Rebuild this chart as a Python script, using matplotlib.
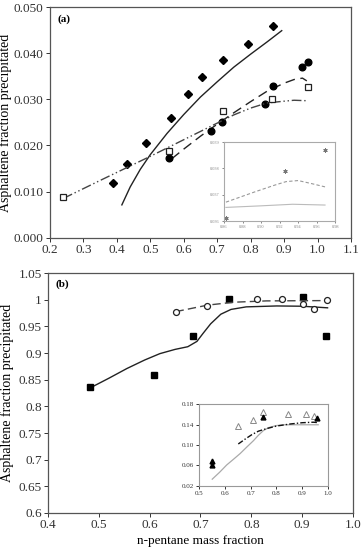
import matplotlib
matplotlib.use('Agg')
from matplotlib import pyplot as plt

# ---- panel (a) data ----
a_diam_x = [0.389, 0.429, 0.486, 0.562, 0.613, 0.655, 0.718, 0.792, 0.868]
a_diam_y = [0.0118, 0.0160, 0.0205, 0.0260, 0.0312, 0.0349, 0.0386, 0.0420, 0.0460]
a_solid_x = [0.415, 0.44, 0.47, 0.50, 0.55, 0.60, 0.65, 0.70, 0.75, 0.80, 0.85, 0.893]
a_solid_y = [0.0071, 0.0110, 0.0148, 0.0180, 0.0226, 0.0267, 0.0305, 0.0338,
             0.0370, 0.0398, 0.0425, 0.0449]

a_circ_x = [0.557, 0.681, 0.714, 0.843, 0.866, 0.953, 0.972]
a_circ_y = [0.0172, 0.0231, 0.0250, 0.0290, 0.0329, 0.0370, 0.0381]
a_dash_x = [0.564, 0.60, 0.65, 0.70, 0.75, 0.80, 0.85, 0.90, 0.93, 0.955, 0.968]
a_dash_y = [0.0171, 0.0192, 0.0220, 0.0246, 0.0271, 0.0295, 0.0318, 0.0335,
            0.0343, 0.0346, 0.0340]

a_sq_x = [0.238, 0.556, 0.716, 0.865, 0.972]
a_sq_y = [0.0088, 0.0188, 0.0274, 0.0300, 0.0326]
a_dd_x = [0.240, 0.35, 0.499, 0.649, 0.749, 0.80, 0.848, 0.90, 0.93, 0.968]
a_dd_y = [0.0085, 0.0124, 0.0176, 0.0230, 0.0266, 0.0281, 0.0292, 0.0296,
          0.0298, 0.0297]

# inset (a)
ia_pts_x = [0.862, 0.926, 0.969]
ia_pts_y = [0.03612, 0.03791, 0.03871]
ia_dash_x = [0.862, 0.894, 0.915, 0.927, 0.940, 0.955, 0.969]
ia_dash_y = [0.03672, 0.03712, 0.03737, 0.03750, 0.03754, 0.03742, 0.03730]
ia_solid_x = [0.862, 0.90, 0.934, 0.969]
ia_solid_y = [0.03652, 0.03658, 0.03664, 0.03661]

# ---- panel (b) data ----
b_sq_x = [0.4835, 0.609, 0.686, 0.7555, 0.901, 0.947]
b_sq_y = [0.8366, 0.8586, 0.9314, 1.001, 1.0048, 0.9314]
b_solid_x = [0.4835, 0.52, 0.555, 0.59, 0.62, 0.65, 0.675, 0.693, 0.705,
             0.72, 0.74, 0.76, 0.79, 0.85, 0.90, 0.95]
b_solid_y = [0.835, 0.853, 0.871, 0.887, 0.899, 0.907, 0.912, 0.922, 0.937,
             0.955, 0.973, 0.982, 0.9868, 0.9885, 0.988, 0.985]

b_circ_x = [0.651, 0.7135, 0.811, 0.860, 0.901, 0.9238, 0.949]
b_circ_y = [0.9778, 0.9891, 1.001, 1.001, 0.9923, 0.9835, 0.9992]
b_dash_x = [0.651, 0.7135, 0.765, 0.83, 0.949]
b_dash_y = [0.9778, 0.990, 0.9955, 0.9980, 0.9986]

# inset (b)
ib_open_x = [0.650, 0.710, 0.748, 0.846, 0.915, 0.945]
ib_open_y = [0.138, 0.149, 0.164, 0.160, 0.160, 0.157]
ib_fill_x = [0.551, 0.551, 0.748, 0.958]
ib_fill_y = [0.069, 0.061, 0.154, 0.153]
ib_solid_x = [0.551, 0.58, 0.607, 0.633, 0.659, 0.685, 0.711, 0.73, 0.749,
              0.77, 0.80, 0.83, 0.962]
ib_solid_y = [0.0333, 0.047, 0.061, 0.072, 0.0832, 0.096, 0.1085, 0.119,
              0.128, 0.134, 0.138, 0.1395, 0.1395]
ib_dd_x = [0.652, 0.68, 0.704, 0.73, 0.762, 0.80, 0.853, 0.90, 0.943, 0.962]
ib_dd_y = [0.102, 0.112, 0.120, 0.127, 0.132, 0.137, 0.141, 0.1435, 0.1445, 0.1437]

plt.rcParams['font.family'] = 'Liberation Serif'
plt.rcParams['axes.edgecolor'] = '#555555'
plt.rcParams['xtick.color'] = '#333333'
plt.rcParams['ytick.color'] = '#333333'

ink = '#222222'
fig = plt.figure(figsize=(3.62, 5.5), dpi=100)


def style_axes(ax, size, tick_len=3):
    ax.tick_params(direction='out', labelsize=size, length=tick_len, width=0.7,
                   top=False, right=False, pad=1.5)
    for s in ax.spines.values():
        s.set_linewidth(0.9)


# panel (a)
ax1 = fig.add_axes([0.138, 0.568, 0.8315, 0.419])
ax1.plot(a_solid_x, a_solid_y, color=ink, lw=1.0)
ax1.plot(a_diam_x, a_diam_y, 'D', color='black', ms=4.3, ls='none')
ax1.plot(a_dash_x, a_dash_y, color=ink, lw=1.0, ls=(0, (7, 4)))
ax1.plot(a_circ_x, a_circ_y, 'o', color='black', ms=4.8, ls='none')
ax1.plot(a_dd_x, a_dd_y, color='#444444', lw=1.0, ls=(0, (7, 2, 1, 2, 1, 2)))
ax1.plot(a_sq_x, a_sq_y, 's', mfc='white', mec=ink, mew=0.9, ms=5, ls='none')
ax1.set_xlim(0.2, 1.1)
ax1.set_ylim(0.0, 0.050)
ax1.set_xticks([0.2, 0.3, 0.4, 0.5, 0.6, 0.7, 0.8, 0.9, 1.0, 1.1])
ax1.set_yticks([0.0, 0.01, 0.02, 0.03, 0.04, 0.05])
ax1.set_yticklabels(['0.000', '0.010', '0.020', '0.030', '0.040', '0.050'])
ax1.set_ylabel('Asphaltene fraction precipitated', fontsize=10, labelpad=1)
style_axes(ax1, 9.5)
ax1.text(0.025, 0.97, '(a)', transform=ax1.transAxes, fontsize=8,
         fontweight='bold', va='top', ha='left')

ins1 = fig.add_axes([0.619, 0.598, 0.307, 0.1436])
ins1.plot(ia_solid_x, ia_solid_y, color='#bbbbbb', lw=0.8)
ins1.plot(ia_dash_x, ia_dash_y, color='#999999', lw=0.8, ls=(0, (3, 2)))
ins1.plot(ia_pts_x, ia_pts_y, marker=(6, 2, 0), color='#777777', ms=3,
          mew=0.7, ls='none')
ins1.set_xlim(0.86, 0.98)
ins1.set_ylim(0.036, 0.039)
ins1.set_xticks([0.86, 0.88, 0.90, 0.92, 0.94, 0.96, 0.98])
ins1.set_xticklabels(['0.86', '0.88', '0.90', '0.92', '0.94', '0.96', '0.98'])
ins1.set_yticks([0.036, 0.037, 0.038, 0.039])
ins1.set_yticklabels(['0.036', '0.037', '0.038', '0.039'])
style_axes(ins1, 3.2, tick_len=1.5)
for s in ins1.spines.values():
    s.set_color('#aaaaaa')
    s.set_linewidth(0.8)
ins1.tick_params(colors='#888888')

# panel (b)
ax2 = fig.add_axes([0.1326, 0.0673, 0.8425, 0.436])
ax2.plot(b_solid_x, b_solid_y, color=ink, lw=1.0)
ax2.plot(b_sq_x, b_sq_y, 's', color='black', ms=4.8, ls='none')
ax2.plot(b_dash_x, b_dash_y, color='#444444', lw=1.0, ls=(0, (6, 3)))
ax2.plot(b_circ_x, b_circ_y, 'o', mfc='white', mec=ink, mew=0.9, ms=4.3,
         ls='none')
ax2.set_xlim(0.4, 1.0)
ax2.set_ylim(0.6, 1.05)
ax2.set_xticks([0.4, 0.5, 0.6, 0.7, 0.8, 0.9, 1.0])
ax2.set_xticklabels(['0.4', '0.5', '0.6', '0.7', '0.8', '0.9', '1.0'])
ax2.set_yticks([0.6, 0.65, 0.7, 0.75, 0.8, 0.85, 0.9, 0.95, 1.0, 1.05])
ax2.set_yticklabels(['0.6', '0.65', '0.7', '0.75', '0.8', '0.85', '0.9',
                     '0.95', '1', '1.05'])
ax2.set_ylabel('Asphaltene fraction precipitated', fontsize=10, labelpad=3)
ax2.set_xlabel('n-pentane mass fraction', fontsize=9.5, labelpad=3)
style_axes(ax2, 9.5)
ax2.text(0.025, 0.975, '(b)', transform=ax2.transAxes, fontsize=8,
         fontweight='bold', va='top', ha='left')

ins2 = fig.add_axes([0.550, 0.1164, 0.356, 0.149])
ins2.plot(ib_solid_x, ib_solid_y, color='#aaaaaa', lw=0.9)
ins2.plot(ib_dd_x, ib_dd_y, color='#111111', lw=1.0, ls=(0, (4, 1.5, 1, 1.5)))
ins2.plot(ib_open_x, ib_open_y, '^', mfc='white', mec='#888888', mew=0.7,
          ms=4, ls='none')
ins2.plot(ib_fill_x, ib_fill_y, '^', color='black', ms=3.5, ls='none')
ins2.set_xlim(0.5, 1.0)
ins2.set_ylim(0.02, 0.18)
ins2.set_xticks([0.5, 0.6, 0.7, 0.8, 0.9, 1.0])
ins2.set_xticklabels(['0.5', '0.6', '0.7', '0.8', '0.9', '1.0'])
ins2.set_yticks([0.02, 0.06, 0.10, 0.14, 0.18])
ins2.set_yticklabels(['0.02', '0.06', '0.10', '0.14', '0.18'])
style_axes(ins2, 5, tick_len=2)
for s in ins2.spines.values():
    s.set_color('#999999')
    s.set_linewidth(0.8)

plt.savefig('out.png', dpi=100, facecolor='white')
plt.close()
